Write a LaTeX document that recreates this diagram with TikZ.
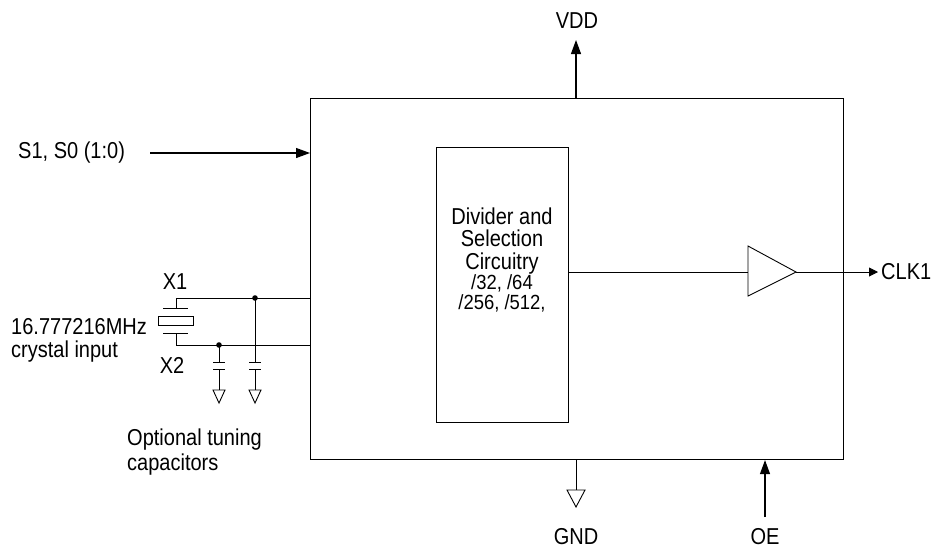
\documentclass[tikz,border=0pt]{standalone}
\usepackage{fontspec}
\setmainfont{Liberation Sans}
\newfontfamily\bigf[FakeStretch=0.87]{Liberation Sans}
\newfontfamily\smallf[FakeStretch=0.9]{Liberation Sans}
\usetikzlibrary{arrows.meta}
\begin{document}
\begin{tikzpicture}[x=1pt,y=-1pt,
  wire/.style={line width=0.9pt},
  sig/.style={line width=1.1pt,-{Triangle[length=14pt,width=10pt]}},
  lbl/.style={font=\bigf\fontsize{23}{22.5}\selectfont,inner sep=0pt},
  slbl/.style={font=\smallf\fontsize{20.5}{20}\selectfont,inner sep=0pt},
  gndtri/.style={line width=0.9pt,fill=white}]
\useasboundingbox (0,0) rectangle (931,550);
% main box
\node[draw,line width=1.1pt,minimum width=533pt,minimum height=361pt,anchor=north west,inner sep=0pt] (chip) at (310,98) {};
% inner box
\node[draw,line width=0.9pt,minimum width=132pt,minimum height=275pt,anchor=north west,inner sep=0pt] (div) at (436,147) {};
\node[lbl,align=center] (divt) at (502,241) {Divider and\\Selection\\Circuitry};
\node[slbl,align=center] (divs) at (502,293) {/32, /64\\/256, /512,};
% buffer
\coordinate (bA) at (748,246);
\coordinate (bB) at (748,296);
\coordinate (bC) at (796,272);
\draw[wire] (bA) -- (bB) -- (bC) -- cycle;
\draw[wire] (div.east |- bC) -- (748,272);
\coordinate (clkend) at (878,272);
\draw[wire,-{Triangle[length=9pt,width=9pt]}] (bC) -- (clkend);
\node[lbl,anchor=west] (clk) at (881,272) {CLK1};
% VDD
\coordinate (vddtop) at (576,40);
\draw[sig] (chip.north -| vddtop) -- (vddtop);
\node[lbl] (vdd) at (577,21) {VDD};
% GND
\coordinate (gndt) at (576,490);
\draw[wire] (chip.south -| gndt) -- (gndt);
\draw[gndtri] (567,490) -- (585,490) -- (576,507) -- cycle;
\node[lbl] (gnd) at (576,537) {GND};
% OE
\coordinate (oebot) at (765,517);
\draw[sig] (oebot) -- (chip.south -| oebot);
\node[lbl] (oe) at (765,537) {OE};
% S1 S0
\coordinate (sstart) at (150,153);
\draw[sig] (sstart) -- (chip.west |- sstart);
\node[lbl,anchor=west] (sel) at (18,153) {S1, S0 (1:0)};
% crystal
\draw[wire] (163,308) -- (188,308);
\draw[wire] (158,316) rectangle (193,325);
\draw[wire] (163,333) -- (188,333);
\coordinate (x1c) at (176,298);
\coordinate (x2c) at (176,345);
\draw[wire] (176,308) -- (x1c) -- (chip.west |- x1c);
\draw[wire] (176,333) -- (x2c) -- (chip.west |- x2c);
\node[lbl] (x1) at (175,282) {X1};
\node[lbl] (x2) at (172,365) {X2};
\node[lbl,anchor=west] (freq) at (11,327) {16.777216MHz};
\node[lbl,anchor=west] (cin) at (11,352) {crystal input};
% capacitors
\foreach \cx/\cy in {255/298, 219/345}{
  \fill (\cx,\cy) circle (2.8pt);
  \draw[wire] (\cx,\cy) -- (\cx,362);
  \draw[wire] (\cx-6,362) -- (\cx+6,362);
  \draw[wire] (\cx-6,369) -- (\cx+6,369);
  \draw[wire] (\cx,369) -- (\cx,390);
  \draw[gndtri] (\cx-6,390) -- (\cx+6,390) -- (\cx,403) -- cycle;
}
\node[lbl,anchor=west] (opt1) at (127,440) {Optional tuning};
\node[lbl,anchor=west] (opt2) at (127,465) {capacitors};
\end{tikzpicture}
\end{document}
